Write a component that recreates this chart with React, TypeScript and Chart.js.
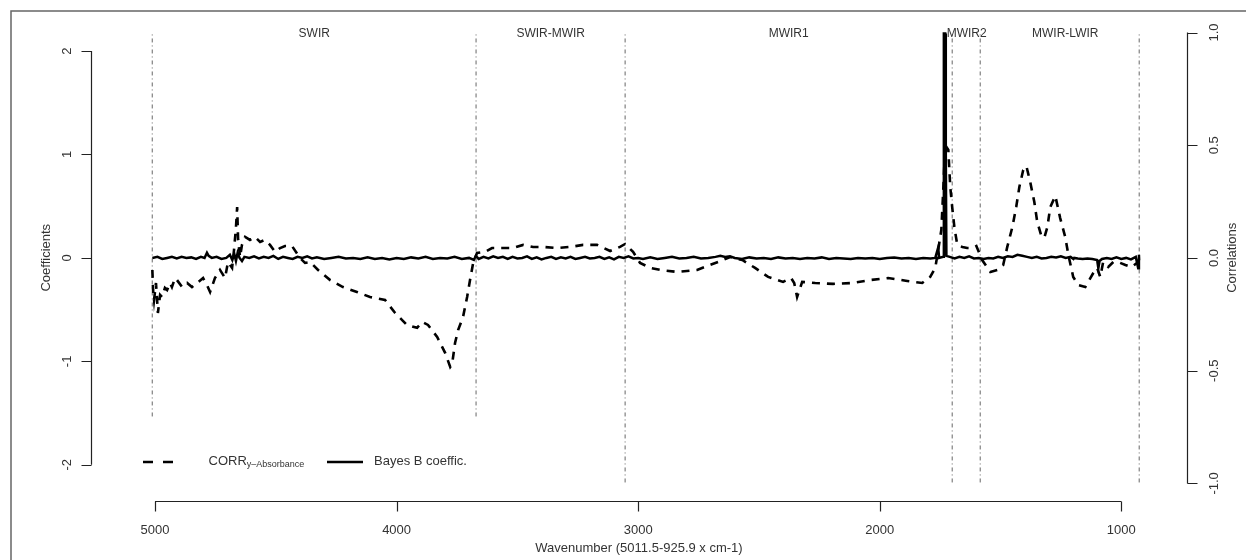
import React, { useEffect, useRef } from "react";
import Chart from "chart.js/auto";

// ---------- axes / ticks ----------
const X_TICKS = [5000, 4000, 3000, 2000, 1000];
const COEF_TICKS = [-2, -1, 0, 1, 2];
const COEF_TICK_LABELS = ["-2", "-1", "0", "1", "2"];
const CORR_TICKS = [-1.0, -0.5, 0.0, 0.5, 1.0];
const CORR_TICK_LABELS = ["-1.0", "-0.5", "0.0", "0.5", "1.0"];

// ---------- spectral regions ----------
const REGION_BOUNDS = [5011.5, 3671, 3054, 1700, 1584, 925.9];
const REGION_LINE_TOP = [2.16, 2.16, 2.16, 2.16, 2.16, 2.16];
const REGION_LINE_BOTTOM = [-1.54, -1.54, -2.18, -2.18, -2.18, -2.18];
const REGION_NAMES = ["SWIR", "SWIR-MWIR", "MWIR1", "MWIR2", "MWIR-LWIR"];
const REGION_LABEL_POS = [4341, 3362, 2377, 1640, 1232];

// ---------- correlation curve (right axis) ----------
const CORR_WAVENUMBERS = [
  5011, 5008, 5004, 4996, 4988, 4979, 4971, 4959, 4950, 4938,
  4930, 4917, 4909, 4888, 4867, 4847, 4826, 4801, 4785, 4772,
  4752, 4731, 4710, 4698, 4681, 4673, 4665, 4660, 4656, 4648,
  4640, 4627, 4607, 4586, 4565, 4545, 4524, 4503, 4482, 4462,
  4433, 4400, 4379, 4358, 4325, 4275, 4222, 4164, 4110, 4048,
  4006, 3957, 3915, 3894, 3870, 3832, 3799, 3778, 3770, 3758,
  3745, 3725, 3708, 3696, 3683, 3667, 3634, 3605, 3571, 3518,
  3476, 3435, 3393, 3335, 3282, 3228, 3170, 3116, 3075, 3054,
  3021, 2992, 2950, 2909, 2839, 2756, 2702, 2669, 2619, 2569,
  2516, 2462, 2400, 2367, 2354, 2342, 2321, 2267, 2193, 2114,
  2039, 1965, 1886, 1824, 1791, 1770, 1758, 1745, 1737, 1729,
  1716, 1708, 1700, 1691, 1679, 1658, 1638, 1617, 1600, 1576,
  1542, 1513, 1489, 1472, 1451, 1435, 1422, 1406, 1393, 1377,
  1360, 1348, 1331, 1319, 1306, 1294, 1273, 1253, 1232, 1219,
  1199, 1178, 1149, 1116, 1100, 1087, 1075, 1054, 1033, 1013,
  983, 958, 934, 926,
];
const CORR_VALUES = [
  -0.053, -0.142, -0.186, -0.111, -0.244, -0.164, -0.173, -0.133, -0.142, -0.111,
  -0.129, -0.089, -0.098, -0.129, -0.111, -0.129, -0.111, -0.089, -0.12, -0.151,
  -0.089, -0.053, -0.089, -0.018, -0.044, 0.035, 0.133, 0.226, 0.08, 0.004,
  0.058, 0.093, 0.08, 0.093, 0.071, 0.08, 0.058, 0.027, 0.044, 0.053,
  0.053, 0.0, -0.022, -0.018, -0.053, -0.098, -0.129, -0.151, -0.173, -0.186,
  -0.244, -0.297, -0.31, -0.284, -0.297, -0.35, -0.421, -0.483, -0.47, -0.377,
  -0.319, -0.262, -0.173, -0.098, -0.022, 0.022, 0.027, 0.044, 0.044, 0.044,
  0.058, 0.049, 0.049, 0.044, 0.049, 0.058, 0.058, 0.031, 0.049, 0.062,
  0.027, -0.022, -0.044, -0.053, -0.062, -0.053, -0.031, -0.018, 0.004, -0.009,
  -0.044, -0.084, -0.106, -0.089, -0.111, -0.173, -0.106, -0.111, -0.115, -0.111,
  -0.098, -0.089, -0.102, -0.111, -0.084, -0.044, 0.035, 0.124, 0.302, 0.501,
  0.479, 0.315, 0.226, 0.137, 0.058, 0.049, 0.044, 0.044, 0.053, -0.009,
  -0.062, -0.053, -0.031, 0.049, 0.137, 0.226, 0.315, 0.39, 0.408, 0.337,
  0.248, 0.16, 0.098, 0.089, 0.137, 0.226, 0.275, 0.177, 0.093, 0.013,
  -0.084, -0.12, -0.129, -0.067, -0.044, -0.084, -0.018, -0.04, -0.018, -0.018,
  -0.031, -0.04, -0.022, -0.009,
];

// ---------- Bayes B coefficients (left axis) ----------
const COEF_WAVENUMBERS = [
  5011, 4990, 4970, 4950, 4930, 4910, 4890, 4870, 4850, 4830,
  4810, 4795, 4785, 4778, 4765, 4745, 4725, 4705, 4690, 4680,
  4672, 4665, 4658, 4650, 4640, 4630, 4610, 4590, 4570, 4550,
  4530, 4510, 4490, 4470, 4450, 4430, 4410, 4390, 4370, 4350,
  4330, 4300, 4270, 4240, 4210, 4180, 4150, 4120, 4090, 4060,
  4030, 4000, 3970, 3940, 3910, 3880, 3850, 3820, 3790, 3760,
  3730, 3700, 3680, 3672, 3660, 3640, 3620, 3600, 3580, 3560,
  3540, 3520, 3500, 3480, 3460, 3440, 3420, 3400, 3380, 3360,
  3340, 3320, 3300, 3280, 3260, 3240, 3220, 3200, 3180, 3160,
  3140, 3120, 3100, 3080, 3060, 3040, 3020, 3000, 2980, 2950,
  2920, 2890, 2860, 2830, 2800, 2770, 2740, 2710, 2680, 2660,
  2640, 2620, 2600, 2570, 2540, 2510, 2480, 2450, 2420, 2390,
  2360, 2330, 2300, 2270, 2240, 2210, 2180, 2150, 2120, 2090,
  2060, 2030, 2000, 1970, 1940, 1910, 1880, 1850, 1820, 1790,
  1770, 1758, 1754, 1737, 1735, 1734, 1733, 1731, 1730, 1729,
  1727, 1726, 1724, 1710, 1690, 1670, 1650, 1630, 1610, 1590,
  1570, 1550, 1530, 1510, 1490, 1470, 1450, 1430, 1410, 1390,
  1370, 1350, 1330, 1310, 1290, 1270, 1250, 1230, 1210, 1198,
  1195, 1180, 1160, 1140, 1120, 1100, 1095, 1090, 1080, 1060,
  1040, 1020, 1000, 980, 960, 940, 930, 927, 926,
];
const COEF_VALUES = [
  0.0, 0.01, -0.01, 0.0, 0.01, -0.005, 0.01, 0.0, 0.005, -0.01,
  0.01, 0.0, 0.05, 0.02, 0.0, 0.01, -0.01, 0.0, 0.03, -0.02,
  0.04, -0.03, 0.05, 0.0, -0.03, 0.01, 0.0, 0.015, -0.005, 0.01,
  0.0, 0.02, -0.01, 0.01, 0.0, -0.01, 0.01, 0.0, 0.015, -0.005,
  0.005, -0.01, 0.0, 0.01, -0.005, 0.0, -0.01, 0.005, -0.01, 0.0,
  -0.015, 0.0, -0.01, 0.005, -0.005, 0.01, -0.01, 0.0, -0.005, 0.01,
  -0.01, 0.0, -0.02, 0.02, -0.01, 0.01, -0.005, 0.015, 0.0, 0.01,
  -0.01, 0.01, -0.005, 0.0, 0.015, -0.01, 0.005, -0.015, 0.0, 0.01,
  -0.01, 0.005, -0.005, 0.01, -0.01, 0.0, 0.01, -0.005, 0.0, 0.01,
  -0.01, 0.005, -0.015, 0.01, 0.0, 0.015, -0.005, 0.0, -0.01, 0.005,
  -0.01, 0.0, 0.01, -0.005, 0.0, 0.01, -0.005, 0.0, 0.01, 0.02,
  0.01, 0.015, 0.0, -0.01, 0.005, -0.005, 0.0, -0.01, 0.005, -0.005,
  0.0, -0.01, 0.0, -0.005, 0.005, -0.01, 0.0, -0.005, -0.01, 0.0,
  -0.005, 0.0, -0.01, 0.0, 0.005, -0.005, 0.0, -0.01, 0.0, -0.005,
  0.0, 0.1, 0.0, 0.01, 1.0, 2.17, 2.17, 1.05, 2.17, 2.17,
  0.9, 1.0, 0.02, 0.01, -0.005, 0.01, 0.0, 0.015, -0.005, 0.0,
  -0.01, 0.0, -0.005, 0.01, 0.0, 0.015, 0.01, 0.03, 0.02, 0.01,
  0.0, 0.01, -0.005, 0.0, 0.01, 0.005, 0.015, 0.0, 0.01, -0.01,
  0.0, -0.005, -0.01, -0.005, -0.01, -0.02, -0.1, -0.03, -0.01, 0.0,
  -0.01, 0.005, -0.01, 0.0, -0.015, 0.01, -0.1, 0.03, -0.02,
];

const FONT = '"Liberation Sans", Arial, Helvetica, sans-serif';
const TEXT_COLOR = "#333";
const AXIS_COLOR = "#222";

const toPoints = (xs: number[], ys: number[]) =>
  xs.map((x, i) => ({ x, y: ys[i] })).filter((p) => p.y !== undefined);

const overlayPlugin = {
  id: "overlay",
  afterDraw(chart: any) {
    const { ctx, chartArea, scales } = chart;
    const sx = scales.x;
    const sy = scales.y;
    const sy2 = scales.y2;
    ctx.save();

    // outer frame
    ctx.strokeStyle = "#666";
    ctx.lineWidth = 1.5;
    ctx.setLineDash([]);
    ctx.beginPath();
    ctx.moveTo(11, chart.height);
    ctx.lineTo(11, 11);
    ctx.lineTo(chart.width, 11);
    ctx.stroke();

    ctx.strokeStyle = AXIS_COLOR;
    ctx.lineWidth = 1.2;
    ctx.fillStyle = TEXT_COLOR;
    const tick = 10;

    // x axis
    const xb = chartArea.bottom + 0.5;
    ctx.beginPath();
    ctx.moveTo(sx.getPixelForValue(X_TICKS[0]), xb);
    ctx.lineTo(sx.getPixelForValue(X_TICKS[X_TICKS.length - 1]), xb);
    X_TICKS.forEach((t) => {
      const px = Math.round(sx.getPixelForValue(t)) + 0.5;
      ctx.moveTo(px, xb);
      ctx.lineTo(px, xb + tick);
    });
    ctx.stroke();
    ctx.font = `13px ${FONT}`;
    ctx.textAlign = "center";
    ctx.textBaseline = "middle";
    X_TICKS.forEach((t) => {
      ctx.fillText(String(t), sx.getPixelForValue(t), 530);
    });
    ctx.fillText(
      "Wavenumber (5011.5-925.9 x cm-1)",
      (chartArea.left + chartArea.right) / 2,
      548
    );

    // left axis
    const xl = chartArea.left + 0.5;
    ctx.beginPath();
    ctx.moveTo(xl, sy.getPixelForValue(COEF_TICKS[0]));
    ctx.lineTo(xl, sy.getPixelForValue(COEF_TICKS[COEF_TICKS.length - 1]));
    COEF_TICKS.forEach((t) => {
      const py = Math.round(sy.getPixelForValue(t)) + 0.5;
      ctx.moveTo(xl, py);
      ctx.lineTo(xl - tick, py);
    });
    ctx.stroke();
    COEF_TICKS.forEach((t, i) => {
      ctx.save();
      ctx.translate(67, sy.getPixelForValue(t));
      ctx.rotate(-Math.PI / 2);
      ctx.fillText(COEF_TICK_LABELS[i], 0, 0);
      ctx.restore();
    });
    ctx.save();
    ctx.translate(46.5, (chartArea.top + chartArea.bottom) / 2);
    ctx.rotate(-Math.PI / 2);
    ctx.fillText("Coefficients", 0, 0);
    ctx.restore();

    // right axis
    const xr = chartArea.right + 0.5;
    ctx.beginPath();
    ctx.moveTo(xr, sy2.getPixelForValue(CORR_TICKS[0]));
    ctx.lineTo(xr, sy2.getPixelForValue(CORR_TICKS[CORR_TICKS.length - 1]));
    CORR_TICKS.forEach((t) => {
      const py = Math.round(sy2.getPixelForValue(t)) + 0.5;
      ctx.moveTo(xr, py);
      ctx.lineTo(xr + tick, py);
    });
    ctx.stroke();
    CORR_TICKS.forEach((t, i) => {
      ctx.save();
      ctx.translate(1214, sy2.getPixelForValue(t));
      ctx.rotate(-Math.PI / 2);
      ctx.fillText(CORR_TICK_LABELS[i], 0, 0);
      ctx.restore();
    });
    ctx.save();
    ctx.translate(1232.5, (chartArea.top + chartArea.bottom) / 2);
    ctx.rotate(-Math.PI / 2);
    ctx.fillText("Correlations", 0, 0);
    ctx.restore();

    // region labels
    ctx.font = `12px ${FONT}`;
    REGION_NAMES.forEach((name, i) => {
      ctx.fillText(name, sx.getPixelForValue(REGION_LABEL_POS[i]), 34);
    });

    // legend
    const ly = 462;
    ctx.strokeStyle = "#000";
    ctx.lineWidth = 2.6;
    ctx.setLineDash([10, 10]);
    ctx.beginPath();
    ctx.moveTo(143, ly);
    ctx.lineTo(174, ly);
    ctx.stroke();
    ctx.setLineDash([]);
    ctx.lineWidth = 2.6;
    ctx.beginPath();
    ctx.moveTo(327, ly);
    ctx.lineTo(363, ly);
    ctx.stroke();
    ctx.textAlign = "left";
    ctx.textBaseline = "alphabetic";
    ctx.font = `13px ${FONT}`;
    ctx.fillText("CORR", 208.5, 464.5);
    const cw = ctx.measureText("CORR").width;
    ctx.font = `9px ${FONT}`;
    ctx.fillText("y\u2013Absorbance", 208.5 + cw, 467);
    ctx.font = `13px ${FONT}`;
    ctx.fillText("Bayes B coeffic.", 374, 464.5);

    ctx.restore();
  },
};

export default function App() {
  const ref = useRef<HTMLCanvasElement>(null);

  useEffect(() => {
    if (!ref.current) return;
    const regionDatasets = REGION_BOUNDS.map((w, i) => ({
      data: [
        { x: w, y: REGION_LINE_TOP[i] },
        { x: w, y: REGION_LINE_BOTTOM[i] },
      ],
      yAxisID: "y",
      borderColor: "#666",
      borderWidth: 1,
      borderDash: [1, 3, 4, 3],
      pointRadius: 0,
      order: 3,
    }));
    const chart = new Chart(ref.current, {
      type: "line",
      data: {
        datasets: [
          {
            data: toPoints(COEF_WAVENUMBERS, COEF_VALUES),
            yAxisID: "y",
            borderColor: "#000",
            borderWidth: 2.5,
            pointRadius: 0,
            order: 1,
          },
          {
            data: toPoints(CORR_WAVENUMBERS, CORR_VALUES),
            yAxisID: "y2",
            borderColor: "#000",
            borderWidth: 2.6,
            borderDash: [8, 7],
            pointRadius: 0,
            order: 2,
          },
          ...regionDatasets,
        ],
      },
      options: {
        animation: false,
        responsive: false,
        devicePixelRatio: 1,
        layout: { padding: { left: 91, right: 59, top: 14.5, bottom: 59 } },
        plugins: { legend: { display: false }, tooltip: { enabled: false } },
        elements: { line: { tension: 0 }, point: { radius: 0 } },
        scales: {
          x: { type: "linear", reverse: true, min: 728, max: 5265, display: false },
          y: { type: "linear", min: -2.35, max: 2.353, display: false },
          y2: { type: "linear", position: "right", min: -1.078, max: 1.08, display: false },
        },
      },
      plugins: [overlayPlugin],
    } as any);
    return () => chart.destroy();
  }, []);

  return (
    <div
      style={{
        position: "fixed",
        left: 0,
        top: 0,
        width: 1246,
        height: 560,
        background: "#fff",
      }}
    >
      <canvas
        ref={ref}
        width={1246}
        height={560}
        style={{ display: "block", width: 1246, height: 560 }}
      />
    </div>
  );
}
